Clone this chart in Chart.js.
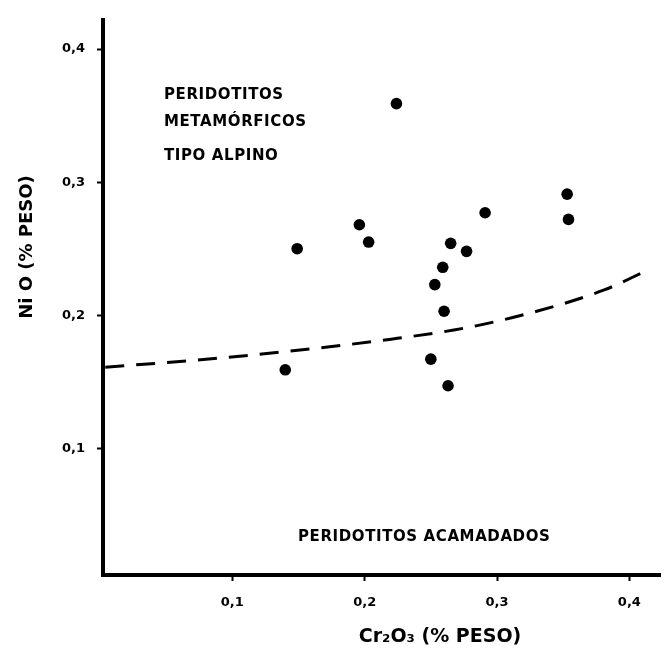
<!DOCTYPE html>
<html>
<head>
<meta charset="utf-8">
<script src="https://cdn.jsdelivr.net/npm/chart.js@4.4.1/dist/chart.umd.min.js"></script>
<style>
  html, body { margin: 0; padding: 0; background: #fff; }
  canvas { display: block; }
</style>
</head>
<body>
<canvas id="nio-chart" width="666" height="663"></canvas>
<script>
// Cr2O3 vs NiO samples (% peso)
const cr2o3 = [0.149, 0.196, 0.203, 0.224, 0.353, 0.354, 0.291, 0.265, 0.277, 0.259, 0.253, 0.260, 0.140, 0.250, 0.263];
const nio = [0.250, 0.268, 0.255, 0.359, 0.291, 0.272, 0.277, 0.254, 0.248, 0.236, 0.223, 0.203, 0.159, 0.167, 0.147];

// dividing curve between the two fields
const curveX = [0.004, 0.070, 0.143, 0.220, 0.279, 0.330, 0.381, 0.412];
const curveY = [0.161, 0.166, 0.173, 0.182, 0.191, 0.203, 0.219, 0.233];

const xTicks = [0.1, 0.2, 0.3, 0.4];
const yTicks = [0.1, 0.2, 0.3, 0.4];

const fieldLabels = ["PERIDOTITOS", "METAMÓRFICOS", "TIPO ALPINO"];
const lowerLabel = "PERIDOTITOS ACAMADADOS";
const xTitle = "Cr₂O₃ (% PESO)";
const yTitle = "Ni O (% PESO)";

const tickFont = { family: "DejaVu Sans", size: 13, weight: "bold" };
const fmt = (v) => v.toFixed(1).replace(".", ",");

// texts inside the plot and the axis titles
const labelsPlugin = {
    id: "labels",
    afterDraw(chart) {
        const ctx = chart.ctx;
        ctx.save();
        ctx.fillStyle = "#000";
        ctx.textBaseline = "middle";
        ctx.textAlign = "left";
        ctx.font = "bold 15px 'DejaVu Sans'";
        ctx.letterSpacing = "0.6px";
        const rows = [95, 122, 156];
        fieldLabels.forEach((t, i) => ctx.fillText(t, 164, rows[i]));
        ctx.fillText(lowerLabel, 298, 537);

        ctx.letterSpacing = "0px";
        ctx.textAlign = "center";
        ctx.font = "bold 19px 'DejaVu Sans'";
        ctx.fillText(xTitle, 440, 637);

        ctx.font = "bold 18px 'DejaVu Sans'";
        ctx.translate(27, 247);
        ctx.rotate(-Math.PI / 2);
        ctx.fillText(yTitle, 0, 0);
        ctx.restore();
    },
};

const ctx = document.getElementById("nio-chart").getContext("2d");
new Chart(ctx, {
    type: "scatter",
    data: {
        datasets: [
            {
                data: cr2o3.map((x, i) => ({ x: x, y: nio[i] })),
                backgroundColor: "#000",
                borderWidth: 0,
                pointRadius: 5.8,
            },
            {
                data: curveX.map((x, i) => ({ x: x, y: curveY[i] })),
                showLine: true,
                borderColor: "#000",
                borderWidth: 3,
                borderDash: [19, 12],
                pointRadius: 0,
                cubicInterpolationMode: "monotone",
                fill: false,
            },
        ],
    },
    options: {
        responsive: false,
        animation: false,
        layout: { padding: { top: 13, right: 3, left: 0, bottom: 0 } },
        plugins: { legend: { display: false }, tooltip: { enabled: false } },
        scales: {
            x: {
                type: "linear",
                min: 0.0023,
                max: 0.4233,
                afterBuildTicks: (scale) => { scale.ticks = xTicks.map((v) => ({ value: v })); },
                afterFit: (scale) => { scale.height = 88; },
                ticks: { callback: fmt, font: tickFont, color: "#000", padding: 14, maxRotation: 0 },
                grid: { drawOnChartArea: false, tickLength: 6, tickWidth: 2, tickColor: "#000" },
                border: { display: true, width: 4, color: "#000" },
            },
            y: {
                type: "linear",
                min: 0.0048,
                max: 0.422,
                afterBuildTicks: (scale) => { scale.ticks = yTicks.map((v) => ({ value: v })); },
                afterFit: (scale) => { scale.width = 103; },
                ticks: { callback: fmt, font: tickFont, color: "#000", padding: 12 },
                grid: { drawOnChartArea: false, tickLength: 6, tickWidth: 2, tickColor: "#000" },
                border: { display: true, width: 4, color: "#000" },
            },
        },
    },
    plugins: [labelsPlugin],
});
</script>
</body>
</html>
